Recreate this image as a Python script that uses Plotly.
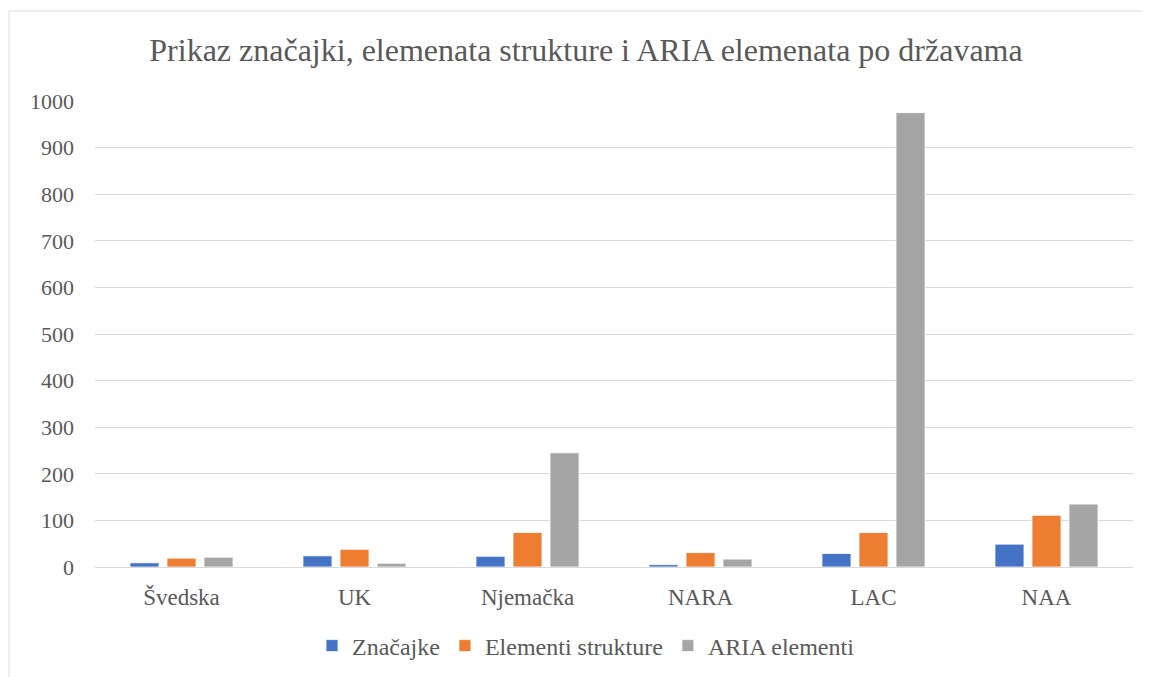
import plotly.graph_objects as go

categories = ["Švedska", "UK", "Njemačka", "NARA", "LAC", "NAA"]
znacajke = [9, 24, 23, 5, 29, 49]
elementi_strukture = [19, 38, 74, 31, 74, 111]
aria_elementi = [21, 8, 245, 17, 975, 135]
series_names = ["Značajke", "Elementi strukture", "ARIA elementi"]
colors = ["#4472C4", "#ED7D31", "#A5A5A5"]

FONT = "'Liberation Serif', 'Times New Roman', serif"
TXT = "#595959"

fig = go.Figure()
for name, vals, c in zip(series_names, [znacajke, elementi_strukture, aria_elementi], colors):
    fig.add_trace(go.Bar(x=categories, y=vals, name=name,
                         marker=dict(color=c, line=dict(color="white", width=0.8))))

# page body has an 8px margin; compensate so the figure lines up with the reference
OFF = 8
W, H = 1150 - OFF, 677 - OFF
ml = 95 - OFF
mt = 101 - OFF
mr = W - (1133 - OFF)
mb = H - (567 - OFF)
pw, ph = W - ml - mr, H - mt - mb

fig.update_layout(
    width=W, height=H,
    margin=dict(l=ml, r=mr, t=mt, b=mb),
    paper_bgcolor="white", plot_bgcolor="white",
    font=dict(family=FONT, color=TXT, size=22),
    title=dict(text="Prikaz značajki, elemenata strukture i ARIA elemenata po državama",
               x=(586 - OFF) / W, xanchor="center", xref="container",
               y=1 - (50 - OFF) / H, yanchor="middle", yref="container",
               font=dict(family=FONT, size=32, color=TXT)),
    barmode="group", bargap=0.358, bargroupgap=0.216,
    showlegend=True,
    legend=dict(orientation="h", x=(586 - OFF) / W, xanchor="center", xref="container",
                y=1 - (646 - OFF) / H, yanchor="middle", yref="container",
                font=dict(family=FONT, size=24, color=TXT),
                itemwidth=30, traceorder="normal"),
    yaxis=dict(range=[0, 1000], dtick=100, showgrid=True, gridcolor="#D9D9D9", gridwidth=1,
               zeroline=False, showline=False, ticks="", ticklabelstandoff=20,
               tickfont=dict(family=FONT, size=22, color=TXT)),
    xaxis=dict(showline=True, linecolor="#D9D9D9", linewidth=1, ticks="",
               ticklabelstandoff=9,
               tickfont=dict(family=FONT, size=23, color=TXT)),
    shapes=[dict(type="rect", xref="paper", yref="paper",
                 x0=(9 - OFF - ml) / pw, x1=(1149 - OFF - ml) / pw,
                 y0=(H - mb - 690) / ph, y1=(H - mb - (11 - OFF)) / ph,
                 line=dict(color="#D9D9D9", width=1), fillcolor="rgba(0,0,0,0)", layer="below")],
)

fig.write_html("out.html")
